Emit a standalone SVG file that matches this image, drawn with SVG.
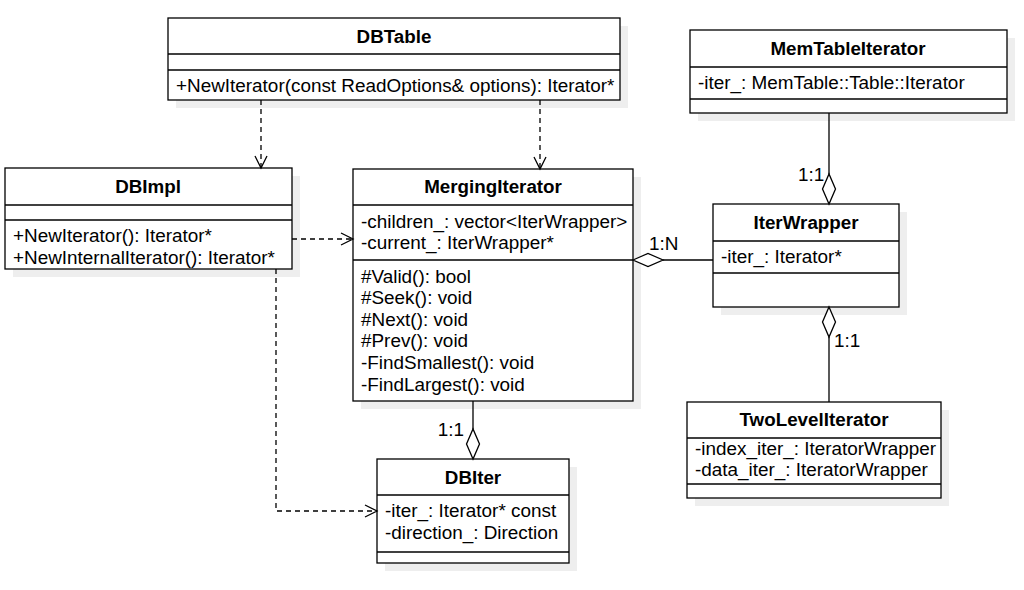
<svg xmlns="http://www.w3.org/2000/svg" width="1024" height="590" viewBox="0 0 1024 590">
<style>
.sh{fill:#eeeeee;stroke:none}
.bx{fill:#ffffff;stroke:#000;stroke-width:1.3}
.ln{stroke:#000;stroke-width:1.3;fill:none}
.t{font-family:"Liberation Sans",Arial,sans-serif;font-size:18.9px;fill:#000}
.h{font-family:"Liberation Sans",Arial,sans-serif;font-size:18.8px;font-weight:bold;fill:#000;text-anchor:middle}
.dash{stroke:#000;stroke-width:1.3;fill:none;stroke-dasharray:5,4}
.arr{stroke:#000;stroke-width:1.3;fill:none}
.dia{stroke:#000;stroke-width:1.3;fill:#fff}
</style>
<rect width="1024" height="590" fill="#ffffff"/>
<g id="DBTable">
<rect class="sh" x="176" y="26" width="452" height="82"/>
<rect class="bx" x="168" y="18" width="452" height="82"/>
<line class="ln" x1="168" y1="54" x2="620" y2="54"/>
<line class="ln" x1="168" y1="70" x2="620" y2="70"/>
<text class="h" x="394" y="43">DBTable</text>
<text class="t" x="176" y="92">+NewIterator(const ReadOptions&amp; options): Iterator*</text>
</g>
<g id="DBImpl">
<rect class="sh" x="13" y="176" width="287" height="101"/>
<rect class="bx" x="5" y="168" width="287" height="101"/>
<line class="ln" x1="5" y1="205" x2="292" y2="205"/>
<line class="ln" x1="5" y1="220" x2="292" y2="220"/>
<text class="h" x="148" y="193">DBImpl</text>
<text class="t" x="13" y="242">+NewIterator(): Iterator*</text>
<text class="t" x="13" y="264">+NewInternalIterator(): Iterator*</text>
</g>
<g id="MergingIterator">
<rect class="sh" x="361" y="177" width="280" height="232"/>
<rect class="bx" x="353" y="169" width="280" height="232"/>
<line class="ln" x1="353" y1="205" x2="633" y2="205"/>
<line class="ln" x1="353" y1="260" x2="633" y2="260"/>
<text class="h" x="493" y="193">MergingIterator</text>
<text class="t" x="361" y="227.5">-children_: vector&lt;IterWrapper&gt;</text>
<text class="t" x="361" y="249">-current_: IterWrapper*</text>
<text class="t" x="361" y="282.5">#Valid(): bool</text>
<text class="t" x="361" y="304">#Seek(): void</text>
<text class="t" x="361" y="325.7">#Next(): void</text>
<text class="t" x="361" y="347.3">#Prev(): void</text>
<text class="t" x="361" y="369">-FindSmallest(): void</text>
<text class="t" x="361" y="390.7">-FindLargest(): void</text>
</g>
<g id="MemTableIterator">
<rect class="sh" x="698" y="38" width="317" height="83"/>
<rect class="bx" x="690" y="30" width="317" height="83"/>
<line class="ln" x1="690" y1="67" x2="1007" y2="67"/>
<line class="ln" x1="690" y1="99" x2="1007" y2="99"/>
<text class="h" x="848" y="55">MemTableIterator</text>
<text class="t" x="698" y="89">-iter_: MemTable::Table::Iterator</text>
</g>
<g id="IterWrapper">
<rect class="sh" x="721" y="212" width="186" height="103"/>
<rect class="bx" x="713" y="204" width="186" height="103"/>
<line class="ln" x1="713" y1="241" x2="899" y2="241"/>
<line class="ln" x1="713" y1="273" x2="899" y2="273"/>
<text class="h" x="806" y="228.5">IterWrapper</text>
<text class="t" x="721" y="262.5">-iter_: Iterator*</text>
</g>
<g id="TwoLevelIterator">
<rect class="sh" x="695" y="410" width="254" height="96"/>
<rect class="bx" x="687" y="402" width="254" height="96"/>
<line class="ln" x1="687" y1="438" x2="941" y2="438"/>
<line class="ln" x1="687" y1="484" x2="941" y2="484"/>
<text class="h" x="814" y="425.5">TwoLevelIterator</text>
<text class="t" x="695" y="454.5">-index_iter_: IteratorWrapper</text>
<text class="t" x="695" y="476">-data_iter_: IteratorWrapper</text>
</g>
<g id="DBIter">
<rect class="sh" x="385" y="467" width="192" height="104"/>
<rect class="bx" x="377" y="459" width="192" height="104"/>
<line class="ln" x1="377" y1="495" x2="569" y2="495"/>
<line class="ln" x1="377" y1="552" x2="569" y2="552"/>
<text class="h" x="473" y="484">DBIter</text>
<text class="t" x="385" y="517.3">-iter_: Iterator* const</text>
<text class="t" x="385" y="538.5">-direction_: Direction</text>
</g>
<g id="connectors">
<path class="dash" d="M261,100 V168"/>
<path class="arr" d="M255,156 L261,168 L267,156"/>
<path class="dash" d="M540,100 V169"/>
<path class="arr" d="M534,157 L540,169 L546,157"/>
<path class="dash" d="M292,239 H353"/>
<path class="arr" d="M341,233 L353,239 L341,245"/>
<path class="dash" d="M276,269 V511 H377"/>
<path class="arr" d="M365,505 L377,511 L365,517"/>
<path class="ln" d="M663,260 H713"/>
<path class="dia" d="M633,260 L648,253.5 L663,260 L648,266.5 Z"/>
<text class="t" x="649" y="250">1:N</text>
<path class="ln" d="M829,113 V174"/>
<path class="dia" d="M829,204 L822.5,189 L829,174 L835.5,189 Z"/>
<text class="t" x="798" y="181">1:1</text>
<path class="ln" d="M829,337 V402"/>
<path class="dia" d="M829,307 L835.5,322 L829,337 L822.5,322 Z"/>
<text class="t" x="834" y="347">1:1</text>
<path class="ln" d="M473,401 V429"/>
<path class="dia" d="M473,459 L466.5,444 L473,429 L479.5,444 Z"/>
<text class="t" x="464" y="436" text-anchor="end">1:1</text>
</g>
</svg>
